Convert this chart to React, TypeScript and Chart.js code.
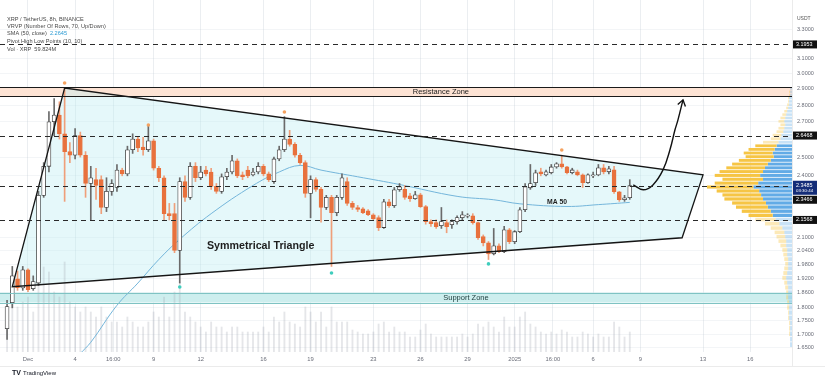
import React, { useEffect, useRef } from "react";
import { Chart, registerables } from "chart.js";

Chart.register(...registerables);

// ---------------- data ----------------
// candle index 0 = 1 Dec 00:00, 8h candles
const firstCandleIndex = -4;

const opens = [
  1.72, 1.82, 1.918, 1.88,
  1.956, 1.877, 1.9, 2.3, 2.45, 2.7, 2.74, 2.63, 2.53, 2.51,
  2.62, 2.51, 2.36, 2.38, 2.38, 2.24, 2.32, 2.34, 2.43, 2.41,
  2.54, 2.6, 2.555, 2.54, 2.59, 2.44, 2.39, 2.21, 2.21, 2.04,
  2.37, 2.29, 2.45, 2.39, 2.43, 2.42, 2.345, 2.32, 2.395, 2.42,
  2.48, 2.405, 2.43, 2.405, 2.42, 2.45, 2.41, 2.37, 2.49, 2.54,
  2.6, 2.57, 2.51, 2.47, 2.31, 2.38, 2.33, 2.24, 2.29, 2.215,
  2.29, 2.37, 2.26, 2.24, 2.234, 2.224, 2.205, 2.191, 2.144, 2.268,
  2.249, 2.328, 2.33, 2.298, 2.283, 2.303, 2.244, 2.172, 2.167, 2.153,
  2.167, 2.158, 2.172, 2.191, 2.198, 2.2, 2.167, 2.102, 2.074, 2.025,
  2.061, 2.034, 2.134, 2.079, 2.125, 2.229, 2.338, 2.364, 2.421, 2.405,
  2.416, 2.447, 2.464, 2.447, 2.416, 2.421, 2.405, 2.364, 2.4, 2.405,
  2.442, 2.421, 2.431, 2.318, 2.278, 2.288,
];
const highs = [
  1.83, 1.97, 1.95, 1.97,
  1.96, 1.93, 2.32, 2.47, 2.76, 2.84, 2.82, 2.91, 2.58, 2.66,
  2.64, 2.53, 2.45, 2.44, 2.4, 2.39, 2.38, 2.46, 2.44, 2.56,
  2.63, 2.61, 2.61, 2.68, 2.6, 2.45, 2.4, 2.26, 2.26, 2.39,
  2.4, 2.47, 2.47, 2.45, 2.45, 2.44, 2.36, 2.41, 2.44, 2.51,
  2.49, 2.42, 2.45, 2.44, 2.47, 2.46, 2.42, 2.5, 2.56, 2.73,
  2.65, 2.58, 2.52, 2.48, 2.4, 2.39, 2.34, 2.3, 2.3, 2.3,
  2.41, 2.39, 2.27, 2.25, 2.24, 2.23, 2.21, 2.2, 2.28, 2.28,
  2.34, 2.36, 2.35, 2.31, 2.32, 2.31, 2.25, 2.18, 2.18, 2.24,
  2.18, 2.18, 2.2, 2.22, 2.21, 2.21, 2.17, 2.11, 2.08, 2.14,
  2.07, 2.15, 2.14, 2.13, 2.24, 2.36, 2.46, 2.43, 2.44, 2.43,
  2.46, 2.47, 2.51, 2.45, 2.44, 2.43, 2.41, 2.41, 2.42, 2.46,
  2.46, 2.45, 2.45, 2.32, 2.3, 2.38,
];
const lows = [
  1.68, 1.8, 1.87, 1.87,
  1.865, 1.87, 1.89, 2.29, 2.42, 2.62, 2.6, 2.27, 2.47, 2.49,
  2.5, 2.29, 2.18, 2.28, 2.21, 2.22, 2.3, 2.32, 2.4, 2.4,
  2.52, 2.53, 2.51, 2.53, 2.43, 2.37, 2.18, 2.18, 2.03, 1.9,
  2.27, 2.28, 2.37, 2.38, 2.4, 2.33, 2.31, 2.31, 2.38, 2.41,
  2.39, 2.38, 2.39, 2.4, 2.41, 2.4, 2.37, 2.36, 2.48, 2.53,
  2.56, 2.5, 2.46, 2.29, 2.19, 2.32, 2.17, 2.23, 1.97, 2.2,
  2.28, 2.25, 2.23, 2.22, 2.21, 2.2, 2.18, 2.13, 2.14, 2.24,
  2.24, 2.32, 2.28, 2.27, 2.28, 2.24, 2.16, 2.15, 2.14, 2.14,
  2.12, 2.14, 2.16, 2.18, 2.19, 2.16, 2.09, 2.06, 2.0, 2.02,
  2.03, 2.03, 2.07, 2.07, 2.12, 2.22, 2.33, 2.35, 2.4, 2.4,
  2.41, 2.44, 2.44, 2.41, 2.41, 2.4, 2.34, 2.36, 2.39, 2.4,
  2.41, 2.41, 2.31, 2.27, 2.27, 2.28,
];
const closes = [
  1.805, 1.93, 1.881, 1.956,
  1.873, 1.906, 2.3, 2.45, 2.7, 2.74, 2.63, 2.53, 2.51, 2.62,
  2.51, 2.36, 2.39, 2.35, 2.24, 2.32, 2.36, 2.43, 2.41, 2.54,
  2.6, 2.55, 2.54, 2.59, 2.44, 2.39, 2.21, 2.2, 2.04, 2.37,
  2.29, 2.45, 2.39, 2.42, 2.41, 2.345, 2.32, 2.395, 2.42, 2.48,
  2.4, 2.395, 2.4, 2.42, 2.45, 2.41, 2.38, 2.49, 2.54, 2.6,
  2.57, 2.51, 2.47, 2.31, 2.38, 2.33, 2.24, 2.29, 2.215, 2.29,
  2.39, 2.26, 2.24, 2.23, 2.215, 2.205, 2.186, 2.144, 2.268, 2.249,
  2.328, 2.343, 2.29, 2.283, 2.303, 2.244, 2.172, 2.162, 2.148, 2.172,
  2.148, 2.172, 2.191, 2.205, 2.202, 2.167, 2.097, 2.074, 2.025, 2.061,
  2.034, 2.134, 2.079, 2.125, 2.229, 2.343, 2.36, 2.416, 2.41, 2.421,
  2.447, 2.464, 2.447, 2.416, 2.431, 2.405, 2.364, 2.405, 2.405, 2.442,
  2.421, 2.437, 2.318, 2.278, 2.288, 2.349,
];
const volumes = [
  40, 70, 45, 50,
  55, 40, 95, 85, 80, 60, 55, 90, 50, 45,
  40, 45, 40, 35, 45, 35, 30, 30, 25, 35,
  30, 25, 25, 30, 40, 35, 55, 35, 60, 70,
  40, 35, 30, 25, 20, 30, 25, 25, 20, 25,
  25, 20, 20, 20, 20, 25, 20, 35, 30, 40,
  30, 28, 25, 45, 40, 30, 40, 25, 45, 30,
  30, 30, 22, 20, 18, 18, 20, 28, 30, 20,
  25, 20, 20, 15, 15, 22, 28, 18, 15, 15,
  15, 15, 15, 18, 15, 18, 28, 25, 30, 25,
  20, 35, 25, 25, 35, 40, 28, 25, 20, 18,
  20, 18, 22, 20, 15, 15, 20, 18, 15, 18,
  15, 15, 30, 25, 15, 20,
];

// SMA 50
const maIdx = [10, 12, 17, 21, 25, 29, 35, 43, 48, 52, 56, 63, 71, 82, 89, 94, 103, 109, 115];
const maVals = [1.63, 1.67, 1.81, 1.9, 2.0, 2.09, 2.21, 2.35, 2.42, 2.455, 2.43, 2.395, 2.355, 2.295, 2.278, 2.258, 2.245, 2.254, 2.265];

// pivot points
const pivotHighIdx = [7, 23, 49, 102];
const pivotHighVals = [2.938, 2.681, 2.758, 2.539];
const pivotLowIdx = [29, 58, 88];
const pivotLowVals = [1.884, 1.942, 1.981];

// axes
const xTickIdx = [0, 9, 16.3, 24, 33, 45, 54, 66, 75, 84, 93, 100.3, 108, 117, 129, 138];
const xTickLabels = ["Dec", "4", "16:00", "9", "12", "16", "19", "23", "26", "29", "2025", "16:00", "6", "9", "13", "16"];
const yTickVals = [3.3, 3.1, 3.0, 2.9, 2.8, 2.7, 2.5, 2.4, 2.1, 2.04, 1.98, 1.92, 1.86, 1.8, 1.75, 1.7, 1.65];

// horizontal levels
const levelVals = [3.1953, 2.62, 2.3485, 2.18];
const levelLabels = ["3.1953", "2.6468", "2.3485", "2.1568"];
const lastPriceLabel = "2.3485";
const countdownLabel = "03:30:44";
const secondPriceLabel = "2.3466";

// zones
const resistanceZone = [2.855, 2.91];
const supportZone = [1.821, 1.861];

// triangle (index, price)
const triIdx = [-3, 7, 129, 125];
const triVals = [1.885, 2.906, 2.405, 2.097];

// projected arrow
const arrowIdx = [115.67, 117.58, 119.43, 121.35, 122.68, 123.64, 124.21, 125.17];
const arrowVals = [2.353, 2.328, 2.353, 2.431, 2.54, 2.653, 2.711, 2.832];

// volume profile rows (price centre, up volume, down volume)
const vpPrices = [
  2.9, 2.88, 2.86, 2.84, 2.82, 2.8, 2.78, 2.76, 2.74, 2.72, 2.7, 2.68, 2.66, 2.64, 2.62, 2.6,
  2.58, 2.56, 2.54, 2.52, 2.5, 2.48, 2.46, 2.44, 2.42, 2.4, 2.38, 2.36, 2.34, 2.32, 2.3, 2.28,
  2.26, 2.24, 2.22, 2.2, 2.18, 2.16, 2.14, 2.12, 2.1, 2.08, 2.06, 2.04, 2.02, 2.0, 1.98, 1.96,
  1.94, 1.92, 1.9, 1.88, 1.86, 1.84, 1.82, 1.8, 1.78, 1.76, 1.74, 1.72, 1.7, 1.68, 1.66,
];
const vpUp = [
  2, 2, 2, 3, 3, 3, 4, 5, 6, 7, 8, 7, 8, 9, 11, 12,
  14, 16, 18, 20, 19, 22, 25, 28, 30, 33, 30, 35, 40, 34, 32, 30,
  27, 25, 22, 20, 17, 13, 10, 8, 7, 6, 6, 5, 5, 4, 4, 4,
  5, 6, 5, 4, 4, 4, 3, 3, 3, 3, 2, 2, 2, 2, 2,
];
const vpDown = [
  0, 1, 1, 1, 1, 2, 2, 3, 4, 5, 6, 5, 6, 7, 9, 10,
  16, 22, 27, 30, 29, 33, 37, 40, 45, 47, 42, 45, 48, 44, 40, 40,
  35, 33, 30, 25, 21, 15, 12, 10, 9, 8, 6, 5, 4, 4, 3, 4,
  4, 4, 3, 3, 2, 2, 2, 2, 1, 1, 1, 1, 1, 0, 0,
];
const valueArea = [2.2, 2.56];

// axis ranges
const X_MIN = -5.35;
const X_MAX = 146;
const Y_MIN = 1.635;
const Y_MAX = 3.52;

// annotation anchors (index, price)
const triangleText = { i: 34.2, p: 2.06, text: "Symmetrical Triangle" };
const maText = { i: 101.1, p: 2.267, text: "MA 50" };
const resistanceText = { i: 78.9, text: "Resistance Zone" };
const supportText = { i: 83.7, text: "Support Zone" };

const legendLines = [
  "XRP / TetherUS, 8h, BINANCE",
  "VRVP (Number Of Rows, 70, Up/Down)",
  "SMA (50, close)",
  "Pivot High Low Points (10, 10)",
  "Vol · XRP  59.824M",
];
const smaValueLabel = "2.2645";

const FONT = '"Liberation Sans", Arial, sans-serif';

const isUp = (k: number) => closes[k] >= opens[k];

const overlayPlugin = {
  id: "overlay",
  beforeDraw(chart: any) {
    const { ctx } = chart;
    ctx.save();
    ctx.fillStyle = "#ffffff";
    ctx.fillRect(0, 0, chart.width, chart.height);
    ctx.restore();
  },
  beforeDatasetsDraw(chart: any) {
    const { ctx, chartArea: a, scales } = chart;
    const x = scales.x;
    const y = scales.y;
    const xv = scales.xvp;
    ctx.save();
    ctx.beginPath();
    ctx.rect(a.left, a.top, a.right - a.left, a.bottom - a.top);
    ctx.clip();

    const rTop = y.getPixelForValue(resistanceZone[1]);
    const rBot = y.getPixelForValue(resistanceZone[0]);
    ctx.fillStyle = "#fde3d4";
    ctx.fillRect(a.left, rTop, a.right - a.left, rBot - rTop);
    const sTop = y.getPixelForValue(supportZone[1]);
    const sBot = y.getPixelForValue(supportZone[0]);
    ctx.fillStyle = "#cdeeee";
    ctx.fillRect(a.left, sTop, a.right - a.left, sBot - sTop);

    ctx.beginPath();
    triIdx.forEach((v, k) => {
      const px = x.getPixelForValue(v);
      const py = y.getPixelForValue(triVals[k]);
      if (k === 0) ctx.moveTo(px, py);
      else ctx.lineTo(px, py);
    });
    ctx.closePath();
    ctx.fillStyle = "rgba(190, 238, 242, 0.4)";
    ctx.fill();

    const right = xv.getPixelForValue(0);
    vpPrices.forEach((p, k) => {
      const top = y.getPixelForValue(p + 0.01);
      const bot = y.getPixelForValue(p - 0.01);
      const h = Math.max(1, bot - top - 0.8);
      const inVA = p >= valueArea[0] && p <= valueArea[1];
      const upEnd = xv.getPixelForValue(vpUp[k]);
      const downEnd = xv.getPixelForValue(vpUp[k] + vpDown[k]);
      ctx.fillStyle = inVA ? "#62abe6" : "rgba(98,171,230,0.35)";
      ctx.fillRect(upEnd, top, right - upEnd, h);
      ctx.fillStyle = inVA ? "#f6c545" : "rgba(246,197,69,0.38)";
      ctx.fillRect(downEnd, top, upEnd - downEnd, h);
    });
    ctx.restore();
  },
  afterDatasetsDraw(chart: any) {
    const { ctx, chartArea: a, scales } = chart;
    const x = scales.x;
    const y = scales.y;
    ctx.save();
    ctx.beginPath();
    ctx.rect(a.left, a.top, a.right - a.left, a.bottom - a.top);
    ctx.clip();

    const rTop = y.getPixelForValue(resistanceZone[1]);
    const rBot = y.getPixelForValue(resistanceZone[0]);
    ctx.strokeStyle = "#1a1a1a";
    ctx.lineWidth = 1;
    [rTop, rBot].forEach((py) => {
      ctx.beginPath();
      ctx.moveTo(a.left, Math.round(py) + 0.5);
      ctx.lineTo(a.right, Math.round(py) + 0.5);
      ctx.stroke();
    });
    const sTop = y.getPixelForValue(supportZone[1]);
    const sBot = y.getPixelForValue(supportZone[0]);
    ctx.strokeStyle = "#7fc3c3";
    [sTop, sBot].forEach((py) => {
      ctx.beginPath();
      ctx.moveTo(a.left, Math.round(py) + 0.5);
      ctx.lineTo(a.right, Math.round(py) + 0.5);
      ctx.stroke();
    });

    ctx.fillStyle = "#222";
    ctx.font = `7.5px ${FONT}`;
    ctx.textAlign = "center";
    ctx.textBaseline = "middle";
    ctx.fillText(resistanceText.text, x.getPixelForValue(resistanceText.i), (rTop + rBot) / 2 + 0.5);
    ctx.fillStyle = "#1d3b3b";
    ctx.fillText(supportText.text, x.getPixelForValue(supportText.i), (sTop + sBot) / 2 + 0.5);

    ctx.beginPath();
    triIdx.forEach((v, k) => {
      const px = x.getPixelForValue(v);
      const py = y.getPixelForValue(triVals[k]);
      if (k === 0) ctx.moveTo(px, py);
      else ctx.lineTo(px, py);
    });
    ctx.closePath();
    ctx.strokeStyle = "#151515";
    ctx.lineWidth = 1.3;
    ctx.stroke();

    ctx.setLineDash([5, 4]);
    ctx.lineWidth = 1.2;
    ctx.strokeStyle = "#2a2a2a";
    levelVals.forEach((v) => {
      const py = Math.round(y.getPixelForValue(v)) + 0.5;
      ctx.beginPath();
      ctx.moveTo(a.left, py);
      ctx.lineTo(a.right, py);
      ctx.stroke();
    });
    ctx.setLineDash([]);

    const n = arrowIdx.length;
    const tx = x.getPixelForValue(arrowIdx[n - 1]);
    const ty = y.getPixelForValue(arrowVals[n - 1]);
    const px0 = x.getPixelForValue(arrowIdx[n - 2]);
    const py0 = y.getPixelForValue(arrowVals[n - 2]);
    const ang = Math.atan2(ty - py0, tx - px0);
    const L = 7;
    ctx.strokeStyle = "#111";
    ctx.lineWidth = 1.4;
    ctx.beginPath();
    ctx.moveTo(tx + L * Math.cos(ang + Math.PI - 0.6), ty + L * Math.sin(ang + Math.PI - 0.6));
    ctx.lineTo(tx, ty);
    ctx.lineTo(tx + L * Math.cos(ang + Math.PI + 0.6), ty + L * Math.sin(ang + Math.PI + 0.6));
    ctx.stroke();

    ctx.fillStyle = "#1e1e1e";
    ctx.textAlign = "left";
    ctx.font = `bold 10.7px ${FONT}`;
    ctx.fillText(triangleText.text, x.getPixelForValue(triangleText.i), y.getPixelForValue(triangleText.p));
    ctx.textAlign = "center";
    ctx.font = `bold 6.8px ${FONT}`;
    ctx.fillText(maText.text, x.getPixelForValue(maText.i), y.getPixelForValue(maText.p));
    ctx.restore();
  },
  afterDraw(chart: any) {
    const { ctx, chartArea: a, scales } = chart;
    const y = scales.y;
    ctx.save();
    ctx.strokeStyle = "rgba(0,0,0,0.08)";
    ctx.lineWidth = 1;
    ctx.beginPath();
    ctx.moveTo(a.right + 0.5, 0);
    ctx.lineTo(a.right + 0.5, 366);
    ctx.moveTo(0, 366.5);
    ctx.lineTo(chart.width, 366.5);
    ctx.stroke();

    ctx.textAlign = "left";
    ctx.textBaseline = "middle";

    // price axis labels (through the y scale)
    ctx.fillStyle = "#6a6d78";
    ctx.font = `5.5px ${FONT}`;
    yTickVals.forEach((v) => {
      ctx.fillText(v.toFixed(4), a.right + 5, y.getPixelForValue(v));
    });

    ctx.font = `5.6px ${FONT}`;
    const ly = [19, 26, 33, 41, 49];
    legendLines.forEach((t, k) => {
      ctx.fillStyle = "#4a4a4a";
      ctx.fillText(t, 7, ly[k]);
      if (k === 2) {
        const w = ctx.measureText(t + "  ").width;
        ctx.fillStyle = "#2b9bd3";
        ctx.fillText(smaValueLabel, 7 + w, ly[k]);
      }
    });

    ctx.fillStyle = "#555";
    ctx.font = `5px ${FONT}`;
    ctx.fillText("USDT", a.right + 5, 19);

    const bx = a.right + 1;
    const bw = 24;
    ctx.font = `5.4px ${FONT}`;
    levelVals.forEach((v, k) => {
      const py = y.getPixelForValue(v);
      const label = levelLabels[k];
      if (label === lastPriceLabel) {
        ctx.fillStyle = "#142d78";
        ctx.fillRect(bx, py - 5, bw, 14);
        ctx.fillStyle = "#fff";
        ctx.fillText(label, bx + 3, py - 0.5);
        ctx.font = `4.4px ${FONT}`;
        ctx.fillText(countdownLabel, bx + 3, py + 5.5);
        ctx.font = `5.4px ${FONT}`;
        ctx.fillStyle = "#111";
        ctx.fillRect(bx, py + 10, bw, 8);
        ctx.fillStyle = "#fff";
        ctx.fillText(secondPriceLabel, bx + 3, py + 14);
      } else {
        ctx.fillStyle = "#111";
        ctx.fillRect(bx, py - 4, bw, 8);
        ctx.fillStyle = "#fff";
        ctx.fillText(label, bx + 3, py);
      }
    });

    ctx.fillStyle = "#131722";
    ctx.font = `bold 7px ${FONT}`;
    ctx.fillText("TV", 12, 373);
    ctx.font = `6px ${FONT}`;
    ctx.fillText("TradingView", 23, 373);
    ctx.restore();
  },
};

export default function App() {
  const ref = useRef<HTMLCanvasElement | null>(null);

  useEffect(() => {
    const canvas = ref.current;
    if (!canvas) return;

    const bodyData = opens.map((o, k) => ({ x: firstCandleIndex + k, y: [o, closes[k]] }));
    const wickData = lows.map((l, k) => ({ x: firstCandleIndex + k, y: [l, highs[k]] }));
    const volData = volumes.map((v, k) => ({ x: firstCandleIndex + k, y: v }));

    const chart = new Chart(canvas, {
      type: "bar",
      data: {
        datasets: [
          {
            type: "bar",
            label: "Volume",
            data: volData,
            xAxisID: "x",
            yAxisID: "yv",
            backgroundColor: "rgba(160,166,175,0.28)",
            barThickness: 1.2,
            grouped: false,
            order: 20,
          } as any,
          {
            type: "line",
            label: "SMA 50",
            data: maIdx.map((v, k) => ({ x: v, y: maVals[k] })),
            xAxisID: "x",
            yAxisID: "y",
            borderColor: "#74b6db",
            borderWidth: 1,
            pointRadius: 0,
            tension: 0.4,
            fill: false,
            order: 6,
          } as any,
          {
            type: "bar",
            label: "Wicks",
            data: wickData,
            xAxisID: "x",
            yAxisID: "y",
            backgroundColor: (c: any) => (isUp(c.dataIndex) ? "#6a6a6a" : "#ef9f7a"),
            barThickness: 1,
            grouped: false,
            minBarLength: 1,
            order: 4,
          } as any,
          {
            type: "bar",
            label: "Candles",
            data: bodyData,
            xAxisID: "x",
            yAxisID: "y",
            backgroundColor: (c: any) => (isUp(c.dataIndex) ? "#ffffff" : "#e8713d"),
            borderColor: (c: any) => (isUp(c.dataIndex) ? "#3a3a3a" : "#e8713d"),
            borderWidth: 0.8,
            borderSkipped: false,
            barThickness: 4,
            grouped: false,
            minBarLength: 1,
            order: 2,
          } as any,
          {
            type: "line",
            label: "Projection",
            data: arrowIdx.map((v, k) => ({ x: v, y: arrowVals[k] })),
            xAxisID: "x",
            yAxisID: "y",
            borderColor: "#111",
            borderWidth: 1.4,
            pointRadius: 0,
            tension: 0.4,
            fill: false,
            order: 1,
          } as any,
          {
            type: "line",
            label: "Pivot highs",
            data: pivotHighIdx.map((v, k) => ({ x: v, y: pivotHighVals[k] })),
            xAxisID: "x",
            yAxisID: "y",
            showLine: false,
            pointRadius: 1.8,
            pointBorderWidth: 0,
            pointBackgroundColor: "#f5a260",
            order: 0,
          } as any,
          {
            type: "line",
            label: "Pivot lows",
            data: pivotLowIdx.map((v, k) => ({ x: v, y: pivotLowVals[k] })),
            xAxisID: "x",
            yAxisID: "y",
            showLine: false,
            pointRadius: 1.8,
            pointBorderWidth: 0,
            pointBackgroundColor: "#3fcdbd",
            order: 0,
          } as any,
        ],
      },
      options: {
        responsive: false,
        maintainAspectRatio: false,
        devicePixelRatio: 1,
        animation: false,
        events: [],
        layout: { padding: 0, autoPadding: false },
        plugins: { legend: { display: false }, tooltip: { enabled: false } },
        scales: {
          x: {
            type: "linear",
            min: X_MIN,
            max: X_MAX,
            bounds: "data",
            offset: false,
            position: "bottom",
            grid: { color: "rgba(190,198,208,0.3)", drawTicks: false, offset: false },
            border: { display: false },
            ticks: {
              autoSkip: false,
              maxRotation: 0,
              padding: 4,
              color: "#6a6d78",
              font: { size: 5.8, family: FONT },
              callback: (v: any) => {
                const k = xTickIdx.findIndex((t) => Math.abs(t - Number(v)) < 1e-6);
                return k >= 0 ? xTickLabels[k] : "";
              },
            },
            afterBuildTicks: (s: any) => {
              s.ticks = xTickIdx.map((v) => ({ value: v }));
            },
            afterFit: (s: any) => {
              s.height = 30;
              s.paddingLeft = 0;
              s.paddingRight = 0;
            },
          },
          y: {
            type: "logarithmic",
            position: "right",
            min: Y_MIN,
            max: Y_MAX,
            bounds: "data",
            grid: { color: "rgba(190,198,208,0.18)", drawTicks: false },
            border: { display: false },
            ticks: { display: false },
            afterBuildTicks: (s: any) => {
              s.ticks = yTickVals.map((v) => ({ value: v }));
            },
            afterFit: (s: any) => {
              s.width = 33;
              s.paddingTop = 0;
              s.paddingBottom = 0;
            },
          },
          yv: { type: "linear", display: false, min: 0, max: 352 },
          xvp: { type: "linear", display: false, min: 0, max: 820, reverse: true, offset: false },
        },
      } as any,
      plugins: [overlayPlugin],
    });

    return () => chart.destroy();
  }, []);

  return (
    <div style={{ position: "fixed", left: 0, top: 0, width: 825, height: 382, background: "#fff" }}>
      <canvas ref={ref} width={825} height={382} style={{ display: "block", width: 825, height: 382 }} />
    </div>
  );
}
